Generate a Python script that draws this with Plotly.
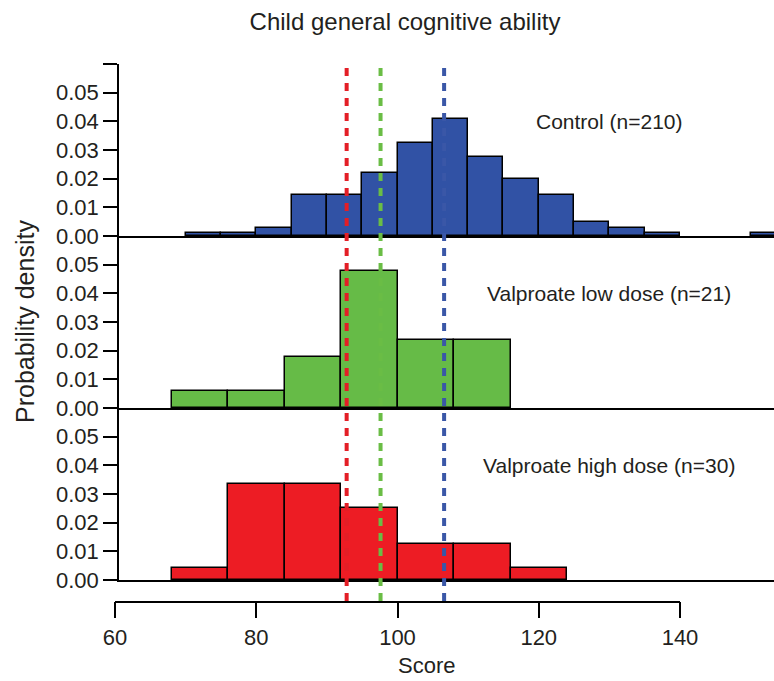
import plotly.graph_objects as go

# ---------------- data ----------------
control_left = [70, 75, 80, 85, 90, 95, 100, 105, 110, 115, 120, 125, 130, 135, 150]
control_counts = [1, 1, 3, 15, 15, 23, 34, 43, 29, 21, 15, 5, 3, 1, 1]
control_width = 5
control_n = 210

low_left = [68, 76, 84, 92, 100, 108]
low_counts = [1, 1, 3, 8, 4, 4]
low_width = 8
low_n = 21

high_left = [68, 76, 84, 92, 100, 108, 116]
high_counts = [1, 8, 8, 6, 3, 3, 1]
high_width = 8
high_n = 30

group_means = {"high": 92.8, "low": 97.6, "control": 106.6}

labels = ["Control (n=210)", "Valproate low dose (n=21)", "Valproate high dose (n=30)"]
y_tickvals = [0, 0.01, 0.02, 0.03, 0.04, 0.05, 0.06]
y_ticktext = ["0.00", "0.01", "0.02", "0.03", "0.04", "0.05", ""]
x_tickvals = [60, 80, 100, 120, 140]
title = "Child general cognitive ability"
x_title = "Score"
y_title = "Probability density"

# ---------------- styling / geometry ----------------
W, H = 774, 681
L, R, T, B = 100, 774, 64, 612
PW, PH = R - L, B - T
FONT = "Liberation Sans, Arial, sans-serif"
TXT = "#231f20"
BLUE, GREEN, RED = "#3152a5", "#66bb47", "#ed1c24"
DBLUE, DGREEN, DRED = "#3a57a7", "#6abd45", "#e31e26"

px_per_unit = (680 - 115) / 80.0
x60_px = 115


def xd(p):
    return (p - L) / PW


def yd(p):
    return (B - p) / PH


panel_x0_px = 119
x_range = [60 + (panel_x0_px - x60_px) / px_per_unit, 60 + (R - x60_px) / px_per_unit]

fig = go.Figure()

panels = [
    (control_left, control_counts, control_width, control_n, BLUE, "x", "y"),
    (low_left, low_counts, low_width, low_n, GREEN, "x2", "y2"),
    (high_left, high_counts, high_width, high_n, RED, "x3", "y3"),
]
for left, counts, width, n, col, xa, ya in panels:
    fig.add_trace(go.Bar(
        x=[l + width / 2 for l in left],
        y=[c / (n * width) for c in counts],
        width=[width] * len(left),
        marker=dict(color=col, line=dict(color="black", width=1.5)),
        xaxis=xa, yaxis=ya, showlegend=False, hoverinfo="x+y",
    ))

# invisible trace carrying the bottom score axis
fig.add_trace(go.Scatter(x=x_tickvals, y=[0] * len(x_tickvals), xaxis="x4", yaxis="y4",
                         mode="markers", marker=dict(opacity=0), showlegend=False,
                         hoverinfo="skip"))

domains = [(yd(236), 1.0), (yd(408), yd(236)), (yd(580), yd(408))]
xdom = [xd(panel_x0_px), 1.0]
layout = dict(
    width=W, height=H,
    margin=dict(l=L, r=W - R, t=T, b=H - B, pad=0, autoexpand=False),
    paper_bgcolor="white", plot_bgcolor="white",
    font=dict(family=FONT, size=21, color=TXT),
    bargap=0,
    title=dict(text=title, x=405 / W, xanchor="center", xref="container",
               y=1 - 22 / H, yanchor="middle", yref="container",
               font=dict(size=24, family=FONT, color=TXT)),
)
for i, (ax, ay) in enumerate([("xaxis", "yaxis"), ("xaxis2", "yaxis2"), ("xaxis3", "yaxis3")]):
    suffix = "" if i == 0 else str(i + 1)
    layout[ax] = dict(domain=xdom, range=x_range, anchor="y" + suffix,
                      showline=True, linecolor="black", linewidth=1.5,
                      showticklabels=False, ticks="", showgrid=False, zeroline=False,
                      fixedrange=True, automargin=False)
    layout[ay] = dict(domain=list(domains[i]), range=[0, 0.06], anchor="x" + suffix,
                      showline=True, linecolor="black", linewidth=1.5,
                      tickvals=y_tickvals, ticktext=y_ticktext,
                      ticks="outside", ticklen=14, tickwidth=1.5, tickcolor="black",
                      showgrid=False, zeroline=False, automargin=False,
                      tickfont=dict(size=22, family=FONT, color=TXT))
layout["xaxis4"] = dict(domain=[xd(115), xd(680)], range=[60, 140], anchor="free",
                        position=yd(601.5), showline=True, linecolor="black", linewidth=1.5,
                        tickvals=x_tickvals, ticks="outside", ticklen=16, tickwidth=1.5,
                        tickcolor="black", showgrid=False, zeroline=False, automargin=False,
                        tickfont=dict(size=22, family=FONT, color=TXT))
layout["yaxis4"] = dict(domain=[0, 0.01], range=[0, 1], anchor="free", position=0,
                        visible=False, automargin=False)
fig.update_layout(**layout)

# mean lines
for key, col in [("high", DRED), ("low", DGREEN), ("control", DBLUE)]:
    m = group_means[key]
    fig.add_shape(type="line", xref="x", yref="paper", x0=m, x1=m,
                  y0=yd(601), y1=yd(64), layer="above",
                  line=dict(color=col, width=4, dash="8px,7px"))

# panel labels
for lab, xa, ya in zip(labels, ["x", "x2", "x3"], ["y", "y2", "y3"]):
    fig.add_annotation(text=lab, x=130, y=0.04, xref=xa, yref=ya, showarrow=False,
                       xanchor="center", yanchor="middle",
                       font=dict(size=21, family=FONT, color=TXT))

fig.add_annotation(text=x_title, x=xd(426), y=yd(665), xref="paper", yref="paper",
                   showarrow=False, xanchor="center", yanchor="middle",
                   font=dict(size=22, family=FONT, color=TXT))
fig.add_annotation(text=y_title, x=xd(25), y=yd(322), xref="paper", yref="paper",
                   showarrow=False, xanchor="center", yanchor="middle", textangle=-90,
                   font=dict(size=25, family=FONT, color=TXT))

fig.write_html("out.html", config={"displayModeBar": False},
               post_script="document.body.style.margin='0';document.body.style.overflow='hidden';")
